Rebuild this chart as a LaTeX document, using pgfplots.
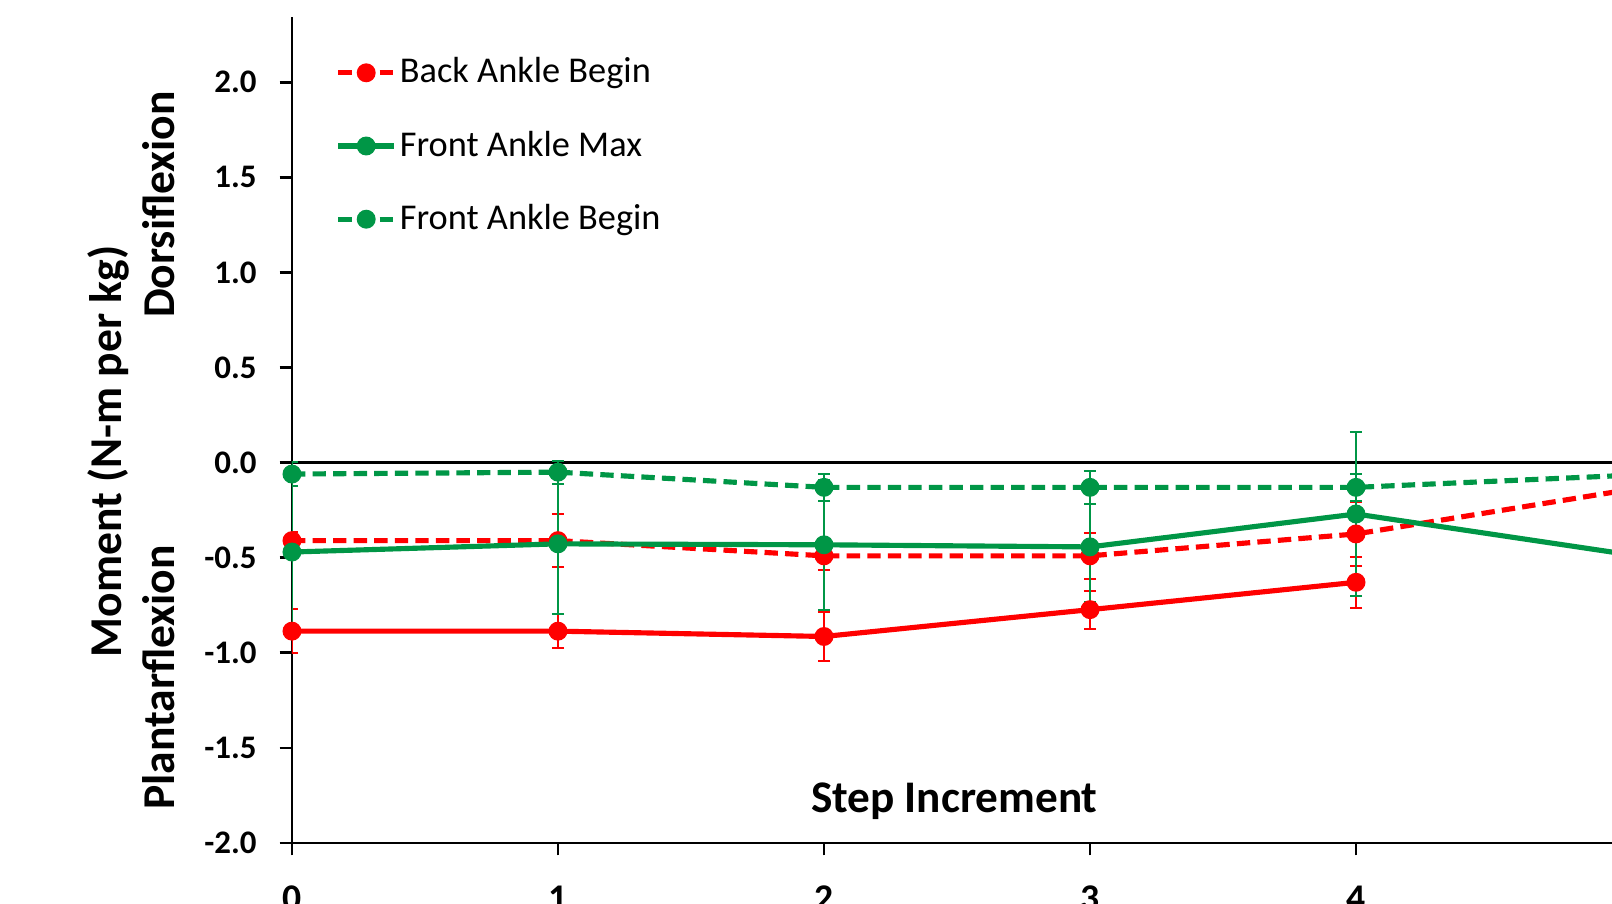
\documentclass[border=0pt]{standalone}
\usepackage{pgfplots}
\pgfplotsset{compat=1.18}
\usepackage{fontspec}
\setmainfont{Carlito}
\definecolor{myred}{RGB}{255,0,0}
\definecolor{mygreen}{RGB}{0,150,70}
\begin{document}
\begin{tikzpicture}
\begin{axis}[
  scale only axis,
  width=388.125pt, height=240.9pt,
  xmin=0, xmax=5, ymin=-2, ymax=2.3405,
  axis x line=bottom, axis y line=left,
  axis line style={-, line width=0.8pt, black},
  tick align=outside,
  major tick length=3.6pt,
  tick style={line width=0.8pt, black},
  xtick={0,1,2,3,4,5},
  ytick={-2,-1.5,-1,-0.5,0,0.5,1,1.5,2},
  /pgf/number format/assume math mode=true,
  yticklabel style={font=\fontsize{9.6}{11}\selectfont\bfseries, /pgf/number format/.cd, fixed, fixed zerofill, precision=1, /tikz/.cd, xshift=-3.2pt},
  xticklabel style={font=\fontsize{11}{13}\selectfont\bfseries, yshift=-5.3pt},
  clip=true,
  legend style={draw=none, fill=none, at={(axis description cs:0.0325,0.985)}, anchor=north west, yshift=-6.9pt,
    font=\fontsize{10.6}{12}\selectfont, row sep=10.5pt, inner sep=0pt,
    nodes={inner sep=1pt}},
  legend cell align=left,
  legend image code/.code={\draw[mark repeat=2,mark phase=2,#1] plot coordinates {(0pt,0pt) (8.1pt,0pt) (16.2pt,0pt)};},
  every axis plot/.append style={line width=1.5pt},
]
% zero line
\addplot[black, line width=0.8pt, forget plot, mark=none] coordinates {(0,0) (5,0)};
% Back Ankle Max (red solid)
\addplot[myred, solid, mark=*, mark size=2pt, forget plot,
  error bars/.cd, y dir=both, y explicit,
  error bar style={line width=0.6pt, solid, myred},
  error mark options={rotate=90, mark size=1.8pt, line width=0.6pt, solid, myred}]
  coordinates {
  (0,-0.886) +- (0,0.115)
  (1,-0.886) +- (0,0.09)
  (2,-0.914) +- (0,0.13)
  (3,-0.773) +- (0,0.10)
  (4,-0.629) +- (0,0.135)
  };
% Back Ankle Begin (red dashed)
\addplot[myred, dash pattern=on 3.9pt off 2.1pt, mark=*, mark size=2pt, mark options={solid},
  error bars/.cd, y dir=both, y explicit,
  error bar style={line width=0.6pt, solid, myred},
  error mark options={rotate=90, mark size=1.8pt, line width=0.6pt, solid, myred}]
  coordinates {
  (0,-0.41) +- (0,0.045)
  (1,-0.41) +- (0,0.14)
  (2,-0.49) +- (0,0.073)
  (3,-0.49) +- (0,0.12)
  (4,-0.375) +- (0,0.17)
  (5,-0.148) +- (0,0.10)
  };
\addlegendentry{Back Ankle Begin}
% Front Ankle Max (green solid)
\addplot[mygreen, solid, mark=*, mark size=2pt,
  error bars/.cd, y dir=both, y explicit,
  error bar style={line width=0.6pt, solid, mygreen},
  error mark options={rotate=90, mark size=1.8pt, line width=0.6pt, solid, mygreen}]
  coordinates {
  (0,-0.47) +- (0,0.42)
  (1,-0.427) +- (0,0.37)
  (2,-0.432) +- (0,0.343)
  (3,-0.443) +- (0,0.29)
  (4,-0.27) +- (0,0.43)
  (5,-0.478) +- (0,0.30)
  };
\addlegendentry{Front Ankle Max}
% Front Ankle Begin (green dashed)
\addplot[mygreen, dash pattern=on 3.9pt off 2.1pt, mark=*, mark size=2pt, mark options={solid},
  error bars/.cd, y dir=both, y explicit,
  error bar style={line width=0.6pt, solid, mygreen},
  error mark options={rotate=90, mark size=1.8pt, line width=0.6pt, solid, mygreen}]
  coordinates {
  (0,-0.06) +- (0,0.065)
  (1,-0.05) +- (0,0.06)
  (2,-0.13) +- (0,0.07)
  (3,-0.13) +- (0,0.085)
  (4,-0.13) +- (0,0.07)
  (5,-0.068) +- (0,0.05)
  };
\addlegendentry{Front Ankle Begin}
\coordinate (cmom) at (axis cs:0,0.06);
\coordinate (cdor) at (axis cs:0,1.357);
\coordinate (cpla) at (axis cs:0,-1.13);
\coordinate (cstep) at (axis cs:2.49,-1.84);
\end{axis}
\node[rotate=90, anchor=base, font=\fontsize{13.3}{15}\selectfont\bfseries, inner sep=0pt] at ([xshift=-49.8pt]cmom) {Moment (N-m per kg)};
\node[rotate=90, anchor=base, font=\fontsize{13.3}{15}\selectfont\bfseries, inner sep=0pt] at ([xshift=-34.2pt]cdor) {Dorsiflexion};
\node[rotate=90, anchor=base, font=\fontsize{13.3}{15}\selectfont\bfseries, inner sep=0pt] at ([xshift=-34.2pt]cpla) {Plantarflexion};
\node[anchor=base, font=\fontsize{13.2}{15}\selectfont\bfseries, inner sep=0pt] at (cstep) {Step Increment};
\pgfresetboundingbox
\path[use as bounding box] ([xshift=-85.2pt,yshift=-17.7pt]current axis.south west) rectangle ([xshift=385.2pt,yshift=5.1pt]current axis.north west);
\end{tikzpicture}
\end{document}
